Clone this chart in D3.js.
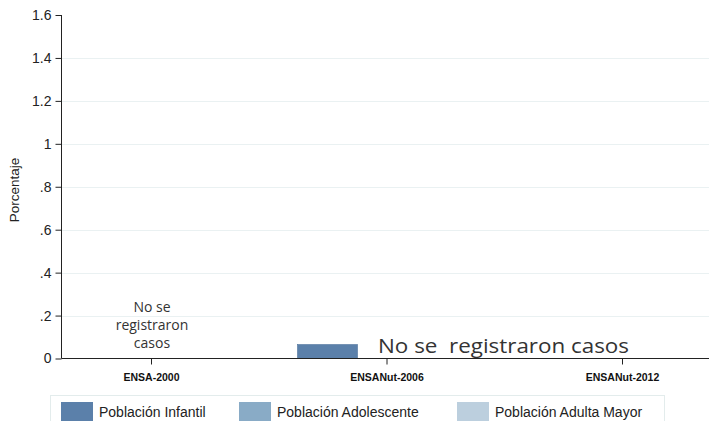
<!DOCTYPE html>
<html><head><meta charset="utf-8">
<script src="https://cdn.jsdelivr.net/npm/d3@7"></script>
<style>body{margin:0;background:#fff}svg{display:block}</style>
</head><body><svg id="c" width="709" height="421"></svg>
<script>
const categories = ["ENSA-2000", "ENSANut-2006", "ENSANut-2012"];
const seriesNames = ["Población Infantil", "Población Adolescente", "Población Adulta Mayor"];
const infantil = [null, 0.065, null];
const adolescente = [null, null, null];
const adultaMayor = [null, null, null];
const yTicks = [0, 0.2, 0.4, 0.6, 0.8, 1, 1.2, 1.4, 1.6];
const yTickLabels = ["0", ".2", ".4", ".6", ".8", "1", "1.2", "1.4", "1.6"];
const colors = ["#5b80aa", "#89abc6", "#bccfde"];
const noteBig = "No se  registraron casos";
const noteSmall = ["No se", "registraron", "casos"];

const svg = d3.select("#c");
const y = d3.scaleLinear().domain([0, 1.6]).range([358.5, 15]);
const x = d3.scalePoint().domain(categories).range([151, 622]);
const xs = d3.scaleBand().domain(seriesNames).range([-89, 91]);
const axisX = 61.5, right = 709;
const sans = "Arial, 'Liberation Sans', sans-serif";

// grid
svg.append("g").selectAll("line").data(yTicks.filter(t => t > 0 && t < 1.6)).join("line")
  .attr("x1", axisX).attr("x2", right).attr("y1", d => Math.round(y(d)) + 0.5).attr("y2", d => Math.round(y(d)) + 0.5)
  .attr("stroke", "#eaf1f2").attr("stroke-width", 1);

// bars
const series = [infantil, adolescente, adultaMayor];
series.forEach((vals, si) => {
  svg.append("g").selectAll("rect").data(categories.map((c, i) => ({c, v: vals[i]})).filter(d => d.v != null)).join("rect")
    .attr("x", d => x(d.c) + xs(seriesNames[si]))
    .attr("width", xs.bandwidth())
    .attr("y", d => y(d.v)).attr("height", d => y(0) - y(d.v))
    .attr("fill", colors[si]).attr("stroke", "#4f739c").attr("stroke-width", 0.6);
});

// y axis
const yAxis = d3.axisLeft(y).tickValues(yTicks).tickFormat((d, i) => yTickLabels[i]).tickSize(6).tickPadding(4);
const gy = svg.append("g").attr("transform", `translate(${axisX},0)`).call(yAxis);
gy.select(".domain").attr("stroke", "#222").attr("d", `M0,${y(1.6)}V${y(0)}`);
gy.selectAll(".tick line").attr("stroke", "#222");
gy.selectAll("text").attr("font-family", sans).attr("font-size", 14).attr("fill", "#222");

// x axis
const xAxis = d3.axisBottom(x).tickSize(6).tickPadding(9);
const gx = svg.append("g").attr("transform", `translate(0,${y(0)})`).call(xAxis);
gx.select(".domain").attr("stroke", "#222").attr("d", `M${axisX},0H${right}`);
gx.selectAll(".tick line").attr("stroke", "#222");
gx.selectAll("text").attr("font-family", sans).attr("font-size", 10.5).attr("font-weight", "bold").attr("fill", "#111");

// y label
svg.append("text").attr("transform", "translate(19,190) rotate(-90)").attr("text-anchor", "middle")
  .attr("font-family", sans).attr("font-size", 13.5).attr("fill", "#222").text("Porcentaje");

// annotations
svg.append("text").attr("x", 378).attr("y", 353).attr("font-family", "'Open Sans', sans-serif").attr("font-size", 20.5)
  .attr("fill", "#333").attr("textLength", 251).attr("lengthAdjust", "spacingAndGlyphs").style("white-space", "pre").text(noteBig);
svg.append("g").selectAll("text").data(noteSmall).join("text")
  .attr("x", x(categories[0]) + 1).attr("y", (d, i) => 312 + i * 18).attr("text-anchor", "middle")
  .attr("font-family", "'Open Sans', sans-serif").attr("font-size", 14).attr("fill", "#333").text(d => d);

// legend
svg.append("rect").attr("x", 50.5).attr("y", 395.5).attr("width", 614).attr("height", 40)
  .attr("fill", "#fff").attr("stroke", "#e3ecec");
const legX = [61, 239, 457];
const lg = svg.append("g").selectAll("g").data(seriesNames).join("g").attr("transform", (d, i) => `translate(${legX[i]},402)`);
lg.append("rect").attr("width", 32).attr("height", 19).attr("fill", (d, i) => colors[i]);
lg.append("text").attr("x", 38).attr("y", 15).attr("font-family", sans).attr("font-size", 14)
  .attr("fill", "#222").text(d => d);
</script></body></html>
